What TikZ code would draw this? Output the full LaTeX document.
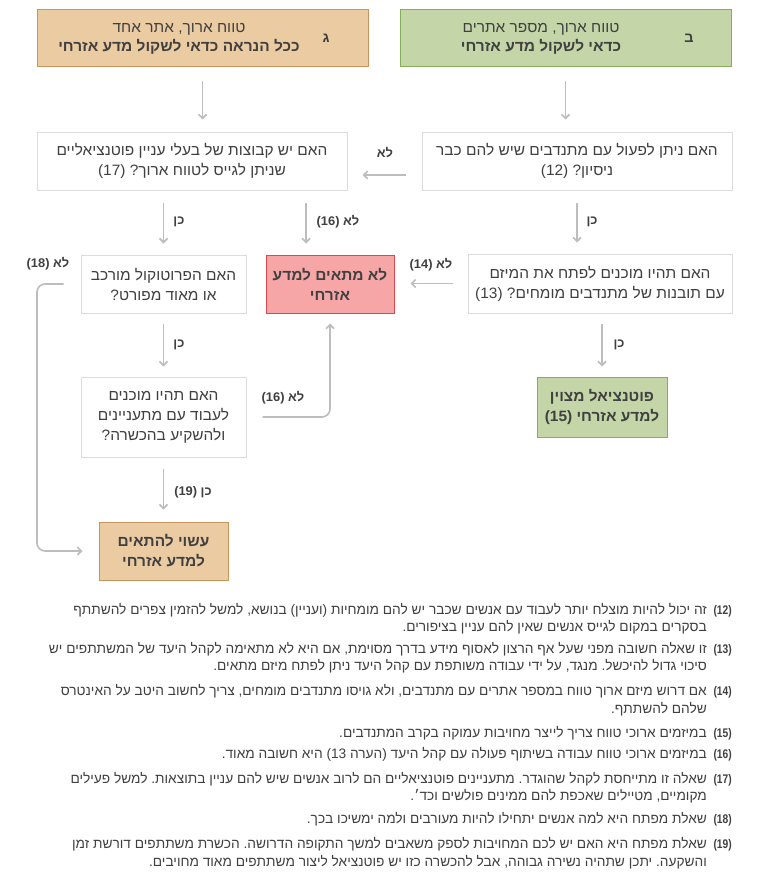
\documentclass[tikz,border=0pt]{standalone}
\usepackage{fontspec}
\usetikzlibrary{arrows.meta,calc}
\TeXXeTstate=1
\frenchspacing
\setmainfont{Liberation Sans}
\newfontfamily\hebbox[Script=Hebrew,FakeStretch=1.03]{Liberation Sans}
\newfontfamily\hebnote[Script=Hebrew]{Liberation Sans}
\newfontfamily\hebnum[Script=Hebrew,FakeStretch=0.82]{Liberation Sans}
\newcommand\RL[1]{\beginR #1\endR}
\definecolor{orfill}{HTML}{EBCBA2}
\definecolor{ordraw}{HTML}{C9955E}
\definecolor{grfill}{HTML}{C4D6A8}
\definecolor{grdraw}{HTML}{86AD58}
\definecolor{rdfill}{HTML}{F6A6A6}
\definecolor{rddraw}{HTML}{E0474C}
\definecolor{qdraw}{HTML}{DCDCDC}
\definecolor{arrc}{HTML}{BDBDBD}
\definecolor{txt}{HTML}{404040}
\tikzset{
  boxbase/.style={line width=1pt, inner sep=0pt, align=center, text=txt},
  qbox/.style={boxbase, draw=qdraw, fill=white, font=\hebbox\fontsize{15}{20}\selectfont},
  orbox/.style={boxbase, draw=ordraw, fill=orfill},
  grbox/.style={boxbase, draw=grdraw, fill=grfill},
  rdbox/.style={boxbase, draw=rddraw, fill=rdfill},
  endtext/.style={font=\hebbox\bfseries\fontsize{15}{20}\selectfont},
  toptext/.style={align=center, text=txt, inner sep=0pt, font=\hebbox\fontsize{15}{19}\selectfont},
  arr/.style={draw=arrc, line width=1.6pt, -{Straight Barb[length=4pt,width=8pt]}},
  lbl/.style={font=\hebbox\bfseries\fontsize{12.5}{14}\selectfont, text=txt, inner sep=0pt},
  note/.style={font=\hebnote\fontsize{13.7}{15}\selectfont, text=txt, anchor=east, inner sep=0pt, text height=9.5pt, text depth=3pt},
  notenum/.style={note, font=\hebnum\bfseries\fontsize{12.5}{15}\selectfont}
}
\begin{document}
\begin{tikzpicture}[x=1pt,y=-1pt]
\useasboundingbox[fill=white] (0,0) rectangle (768,875);

% top boxes
\node[orbox, minimum width=331pt, minimum height=57pt] (gbox) at (202.5,38.5) {};
\node[toptext] (gtext) at (179,38.5) {\RL{טווח ארוך, אתר אחד}\\\RL{\bfseries ככל הנראה כדאי לשקול מדע אזרחי}};
\node[toptext, font=\hebbox\bfseries\fontsize{14}{19}\selectfont] (gletter) at (326,38) {\RL{ג}};

\node[grbox, minimum width=331pt, minimum height=57pt] (bbox) at (565.5,38.5) {};
\node[toptext] (btext) at (541,38.5) {\RL{טווח ארוך, מספר אתרים}\\\RL{\bfseries כדאי לשקול מדע אזרחי}};
\node[toptext, font=\hebbox\bfseries\fontsize{14}{19}\selectfont] (bletter) at (689,38) {\RL{ב}};

% questions
\node[qbox, minimum width=310pt, minimum height=58pt] (q17) at (192,161)
  {\RL{האם יש קבוצות של בעלי עניין פוטנציאליים}\\\RL{שניתן לגייס לטווח ארוך? \beginL(17)\endL}};
\node[qbox, minimum width=310pt, minimum height=58pt] (q12) at (577,161)
  {\RL{האם ניתן לפעול עם מתנדבים שיש להם כבר}\\\RL{ניסיון? \beginL(12)\endL}};
\node[qbox, minimum width=264pt, minimum height=59pt] (q13) at (600,283.5)
  {\RL{האם תהיו מוכנים לפתח את המיזם}\\\RL{עם תובנות של מתנדבים מומחים? \beginL(13)\endL}};
\node[rdbox, endtext, minimum width=128pt, minimum height=58pt] (red) at (330,284)
  {\RL{לא מתאים למדע}\\\RL{אזרחי}};
\node[qbox, minimum width=165pt, minimum height=58pt] (q18) at (163.5,284)
  {\RL{האם הפרוטוקול מורכב}\\\RL{או מאוד מפורט?}};
\node[qbox, minimum width=165pt, minimum height=80pt] (qt) at (163.5,417)
  {\RL{האם תהיו מוכנים}\\\RL{לעבוד עם מתעניינים}\\\RL{ולהשקיע בהכשרה?}};
\node[orbox, endtext, minimum width=129pt, minimum height=58pt] (obox) at (163.5,551)
  {\RL{עשוי להתאים}\\\RL{למדע אזרחי}};
\node[grbox, endtext, minimum width=130pt, minimum height=60pt] (green) at (602,407)
  {\RL{פוטנציאל מצוין}\\\RL{למדע אזרחי \beginL(15)\endL}};

% connectors
\coordinate (lx) at (37,0);
\draw[arr, shorten <=13pt, shorten >=12pt] (gbox.south) -- (gbox.south |- q17.north);
\draw[arr, shorten <=13pt, shorten >=12pt] (bbox.south) -- (bbox.south |- q12.north);
\draw[arr, shorten <=16pt, shorten >=15pt] ($(q12.west)+(0,14)$) -- ($(q17.east)+(0,14)$);
\draw[arr, shorten <=12pt, shorten >=11pt] (q12.south) -- (q12.south |- q13.north);
\draw[arr, shorten <=15pt, shorten >=16pt] (q13.west) -- (q13.west -| red.east);
\draw[arr, shorten <=10pt, shorten >=10pt] (green.north |- q13.south) -- (green.north);
\draw[arr, shorten <=12pt, shorten >=11pt] (q18.north |- q17.south) -- (q18.north);
\draw[arr, shorten <=12pt, shorten >=11pt] ($(q17.south)+(114,0)$) -- ($(red.north)+(-24,0)$);
\draw[arr, shorten <=10pt, shorten >=10pt] (q18.south) -- (qt.north);
\draw[arr, shorten <=11pt, shorten >=12pt] (qt.south) -- (obox.north);
\draw[arr, rounded corners=8pt] ([xshift=-17pt]q18.west) -- (lx |- q18.west) -- (lx |- obox.west) -- ([xshift=-16pt]obox.west);
\draw[arr, rounded corners=8pt, shorten >=10pt] ([xshift=16pt]qt.east) -| (red.south);

% labels
\node[lbl] (l1) at (385,153) {\RL{לא}};
\node[lbl] (l2) at (592,222) {\RL{כן}};
\node[lbl] (l3) at (431,265) {\RL{לא \beginL(14)\endL}};
\node[lbl] (l4) at (179,222) {\RL{כן}};
\node[lbl] (l5) at (338,222) {\RL{לא \beginL(16)\endL}};
\node[lbl] (l6) at (48,264) {\RL{לא \beginL(18)\endL}};
\node[lbl] (l7) at (179,345) {\RL{כן}};
\node[lbl] (l8) at (619,345) {\RL{כן}};
\node[lbl] (l9) at (283,398) {\RL{לא \beginL(16)\endL}};
\node[lbl] (l10) at (193,492) {\RL{כן \beginL(19)\endL}};

% notes
\node[notenum] (n12) at (732,611) {\beginL(12)\endL};
\node[note] (t12a) at (707,611) {\RL{זה יכול להיות מוצלח יותר לעבוד עם אנשים שכבר יש להם מומחיות (ועניין) בנושא, למשל להזמין צפרים להשתתף}};
\node[note] (t12b) at (707,628) {\RL{בסקרים במקום לגייס אנשים שאין להם עניין בציפורים.}};
\node[notenum] (n13) at (732,650) {\beginL(13)\endL};
\node[note] (t13a) at (707,650) {\RL{זו שאלה חשובה מפני שעל אף הרצון לאסוף מידע בדרך מסוימת, אם היא לא מתאימה לקהל היעד של המשתתפים יש}};
\node[note] (t13b) at (707,667) {\RL{סיכוי גדול להיכשל. מנגד, על ידי עבודה משותפת עם קהל היעד ניתן לפתח מיזם מתאים.}};
\node[notenum] (n14) at (732,692) {\beginL(14)\endL};
\node[note] (t14a) at (707,692) {\RL{אם דרוש מיזם ארוך טווח במספר אתרים עם מתנדבים, ולא גויסו מתנדבים מומחים, צריך לחשוב היטב על האינטרס}};
\node[note] (t14b) at (707,710) {\RL{שלהם להשתתף.}};
\node[notenum] (n15) at (732,734) {\beginL(15)\endL};
\node[note] (t15) at (707,734) {\RL{במיזמים ארוכי טווח צריך לייצר מחויבות עמוקה בקרב המתנדבים.}};
\node[notenum] (n16) at (732,755) {\beginL(16)\endL};
\node[note] (t16) at (707,755) {\RL{במיזמים ארוכי טווח עבודה בשיתוף פעולה עם קהל היעד (הערה 13) היא חשובה מאוד.}};
\node[notenum] (n17) at (732,780) {\beginL(17)\endL};
\node[note] (t17a) at (707,780) {\RL{שאלה זו מתייחסת לקהל שהוגדר. מתעניינים פוטנציאליים הם לרוב אנשים שיש להם עניין בתוצאות. למשל פעילים}};
\node[note] (t17b) at (707,797) {\RL{מקומיים, מטיילים שאכפת להם ממינים פולשים וכד׳.}};
\node[notenum] (n18) at (732,820) {\beginL(18)\endL};
\node[note] (t18) at (707,820) {\RL{שאלת מפתח היא למה אנשים יתחילו להיות מעורבים ולמה ימשיכו בכך.}};
\node[notenum] (n19) at (732,845) {\beginL(19)\endL};
\node[note] (t19a) at (707,845) {\RL{שאלת מפתח היא האם יש לכם המחויבות לספק משאבים למשך התקופה הדרושה. הכשרת משתתפים דורשת זמן}};
\node[note] (t19b) at (707,863) {\RL{והשקעה. יתכן שתהיה נשירה גבוהה, אבל להכשרה כזו יש פוטנציאל ליצור משתתפים מאוד מחויבים.}};
\end{tikzpicture}
\end{document}
